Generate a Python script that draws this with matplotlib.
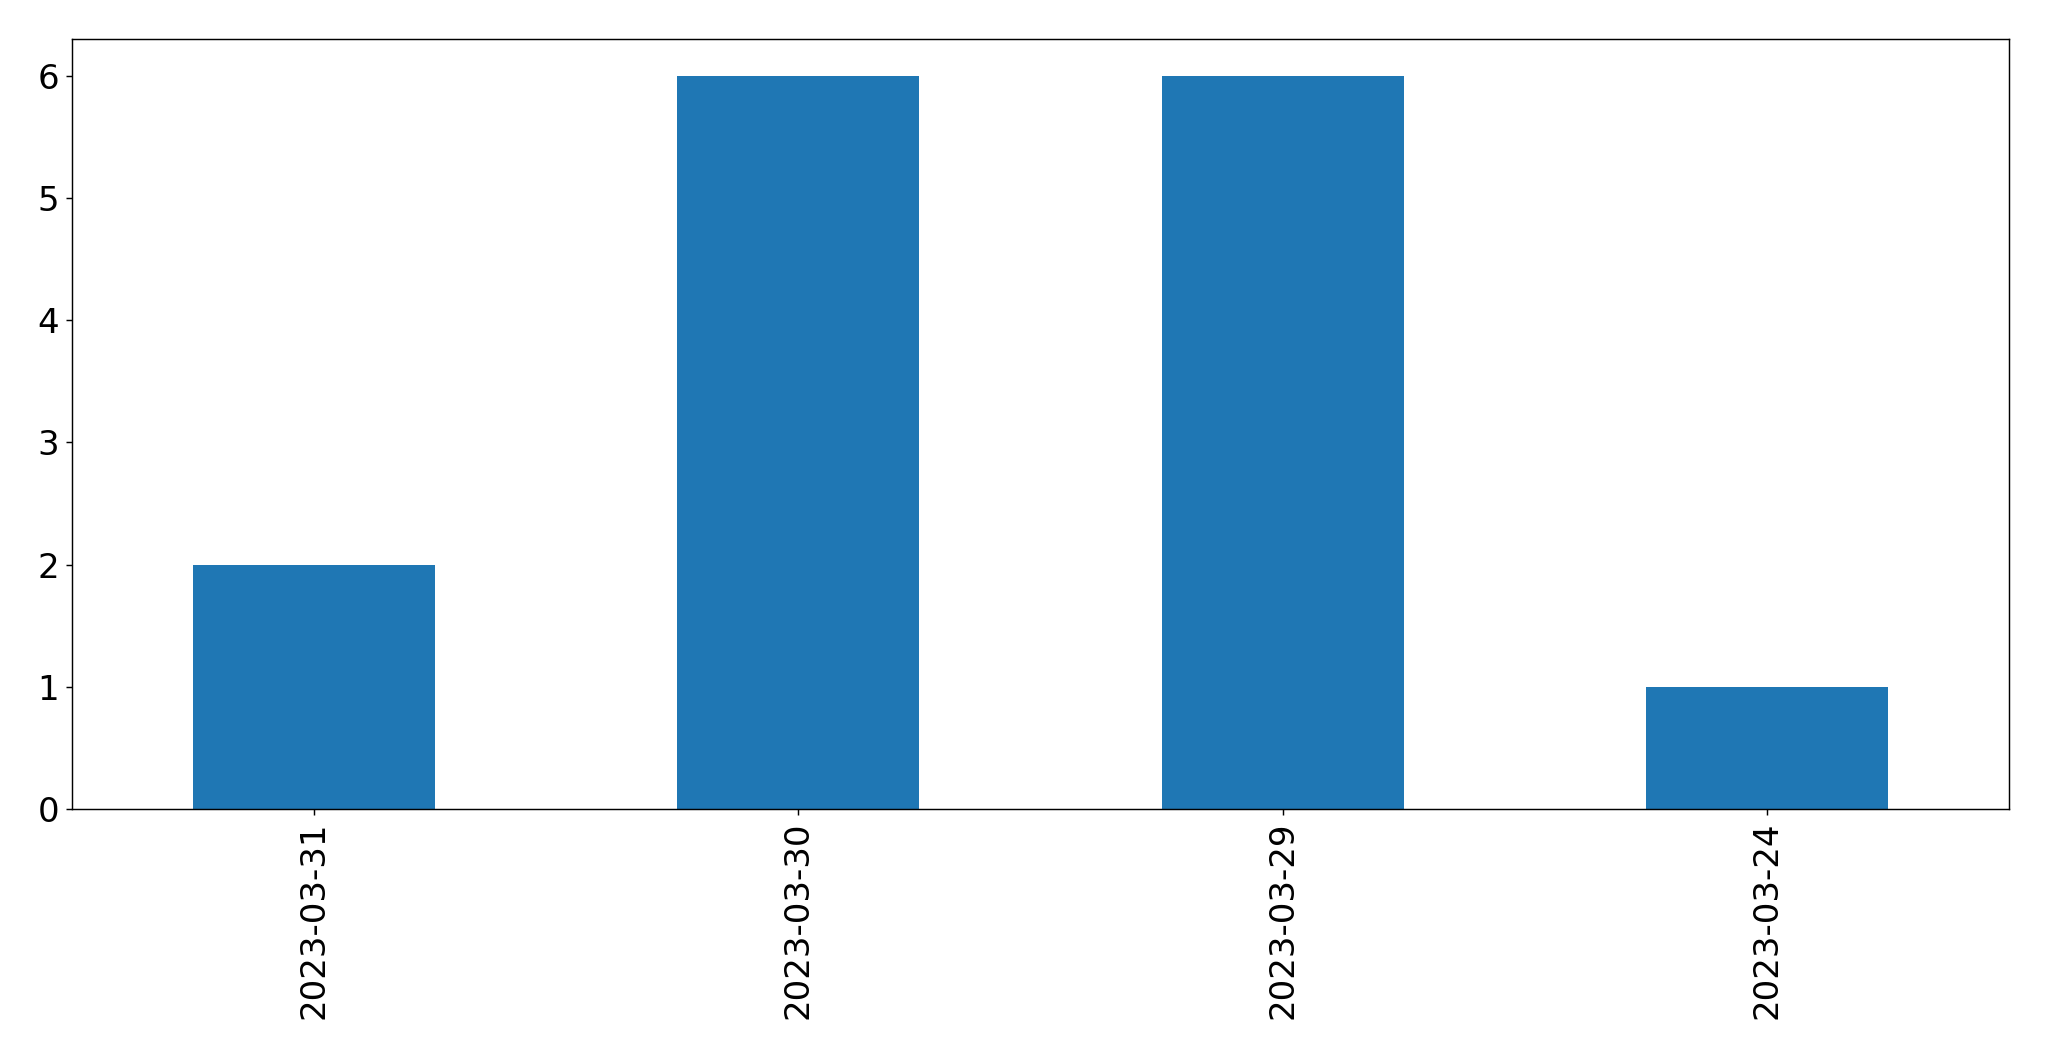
import matplotlib
matplotlib.use("Agg")
import matplotlib.pyplot as plt
import pandas as pd

dates = ["2023-03-31", "2023-03-30", "2023-03-29", "2023-03-24"]
counts = [2, 6, 6, 1]

dpi = 130
fig = plt.figure(figsize=(2049 / dpi, 1061 / dpi), dpi=dpi)
ax = fig.add_axes([0.0351, 0.2375, 0.9454, 0.7257])

series = pd.Series(counts, index=dates)
series.plot(kind="bar", ax=ax, color="#1f77b4", fontsize=18.8)

ax.tick_params(axis="x", labelrotation=90)
ax.set_xlabel("")

fig.savefig("out.png", dpi=dpi)
plt.close(fig)
